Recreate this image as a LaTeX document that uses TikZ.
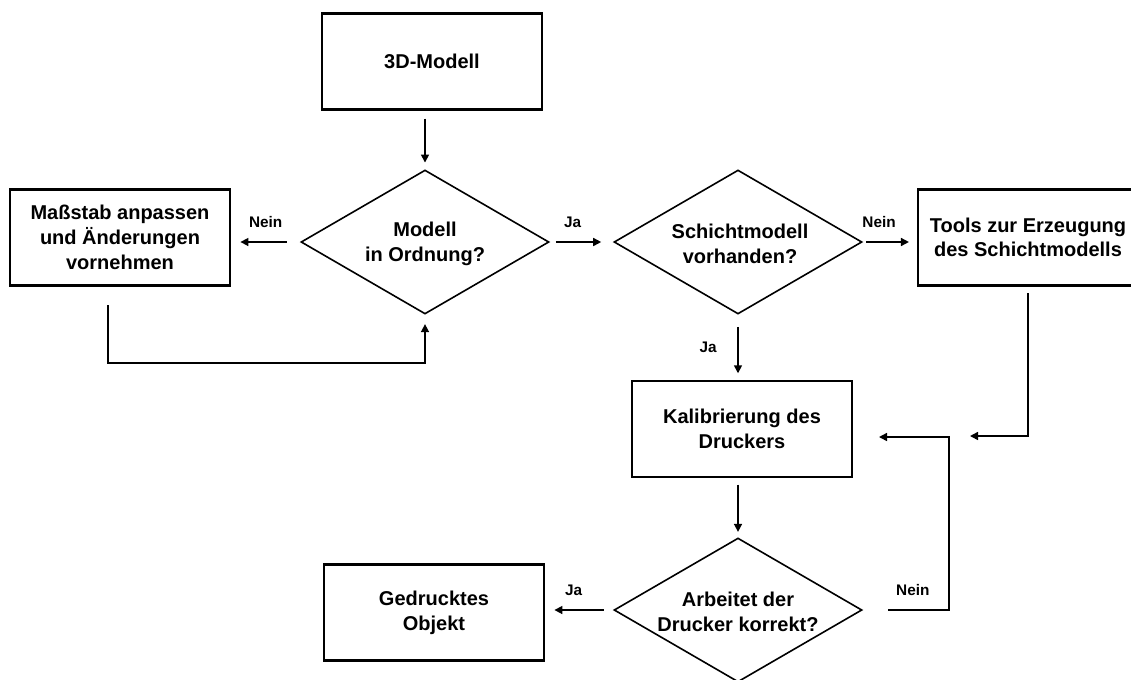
\documentclass[tikz,border=0pt]{standalone}
\usepackage{fontspec}
\setmainfont{Liberation Sans}
\usetikzlibrary{arrows.meta,shapes.geometric}

\begin{document}
\begin{tikzpicture}[x=0.75pt,y=-0.75pt,
  box/.style={rectangle,draw,line width=1.6pt,minimum width=165pt,minimum height=72pt,
              align=center,font=\bfseries\fontsize{15}{18.5}\selectfont},
  dec/.style={diamond,draw,line width=1.2pt,minimum width=186pt,minimum height=108pt,inner sep=0pt},
  dectext/.style={align=center,font=\bfseries\fontsize{15}{18.5}\selectfont},
  arr/.style={-{Triangle[length=6pt,width=6pt]},line width=1.2pt},
  lbl/.style={font=\bfseries\fontsize{11.5}{13}\selectfont},
]
\useasboundingbox (0,0) rectangle (1131,679);
\clip (0,0) rectangle (1131,679);

% ---- Top row ----
\node[box] (model) at (432,61.5) {3D-Modell};
\node[dec] (ok) at (425,242) {};
\node[dectext] (okt) at (425,244) {Modell\\in Ordnung?};
\node[box] (scale) at (120,237.5) {Maßstab anpassen\\und Änderungen\\vornehmen};
\node[dec] (layer) at (738,242) {};
\node[dectext] (layert) at (740,244) {Schichtmodell\\vorhanden?};
\node[box] (tools) at (1028,237.5) {Tools zur Erzeugung\\des Schichtmodells};

% ---- Lower part ----
\node[box] (calib) at (742,429) {Kalibrierung des\\Druckers};
\node[dec] (works) at (738,610) {};
\node[dectext] (workst) at (738,612) {Arbeitet der\\Drucker korrekt?};
\node[box] (printed) at (434,612.5) {Gedrucktes\\Objekt};

% free ends and corners
\coordinate (back) at (425,363);
\coordinate (in1) at (970,436);
\coordinate (loop) at (949,437);
\coordinate (in2) at (879,437);

% ---- Connectors ----
\draw[arr,shorten <=6pt,shorten >=5pt] (model.south -| ok.north) -- (ok.north);
\draw[arr,shorten <=10pt,shorten >=7pt] (ok.west) -- node[lbl,above=7pt]{Nein} (scale.east |- ok.west);
\draw[arr,shorten <=14pt,shorten >=7pt] ([xshift=-9pt]scale.south) |- (back) -- (ok.south);
\draw[arr,shorten <=4.5pt,shorten >=9pt] (ok.east) -- node[lbl,above=7pt,pos=0.36]{Ja} (layer.west);
\draw[arr,shorten <=2.5pt,shorten >=6pt] (layer.east) -- node[lbl,above=7pt,pos=0.3]{Nein} (tools.west |- layer.east);
\draw[arr,shorten <=9pt,shorten >=5pt] (layer.south) -- node[lbl,left=12pt]{Ja} (calib.north -| layer.south);
\draw[arr,shorten <=5pt] (tools.south) |- (in1);
\draw[arr,shorten <=5pt,shorten >=4pt] (calib.south -| works.north) -- (works.north);
\draw[arr,shorten <=7pt,shorten >=7pt] (works.west) -- node[lbl,above=7pt,pos=0.58]{Ja} (printed.east |- works.west);
\draw[arr,shorten <=19pt] (works.east) -| node[lbl,above=7pt,pos=0.29]{Nein} (loop) -- (in2);
\end{tikzpicture}
\end{document}
